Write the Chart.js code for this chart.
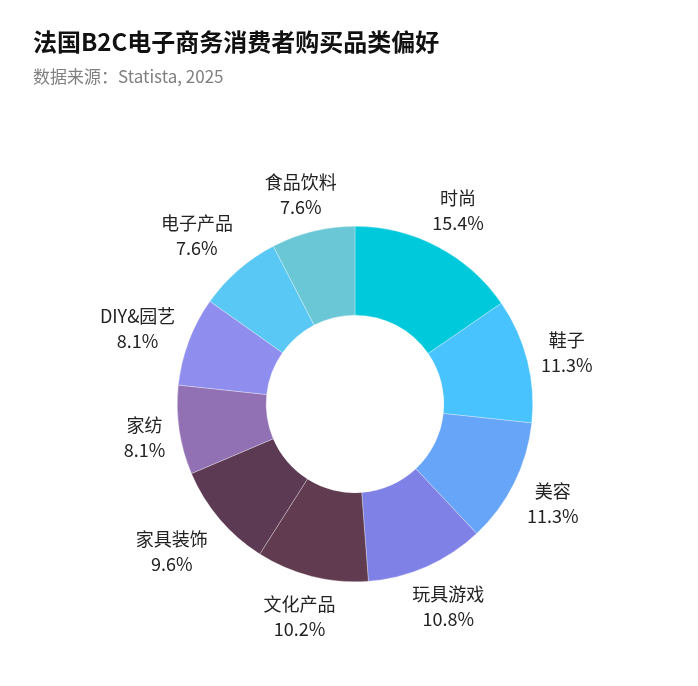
<!DOCTYPE html>
<html><head><meta charset="utf-8">
<script src="https://cdn.jsdelivr.net/npm/chart.js@4"></script>
<style>html,body{margin:0;padding:0;background:#fff;}#wrap{width:698px;height:686px;position:relative;}</style>
</head><body><div id="wrap"><canvas id="c" width="698" height="686"></canvas></div>
<script>
const categories = ['时尚','鞋子','美容','玩具游戏','文化产品','家具装饰','家纺','DIY&园艺','电子产品','食品饮料'];
const shares = [15.4, 11.3, 11.3, 10.8, 10.2, 9.6, 8.1, 8.1, 7.6, 7.6];
const colors = ['#00C9DC','#48C3FD','#66A5F8','#8081E6','#613C50','#5C3A53','#9170B4','#8F8EEF','#5AC8F5','#6AC8D6'];
const titleText = '法国B2C电子商务消费者购买品类偏好';
const subtitleText = '数据来源：Statista, 2025';
const FONT = '"Noto Sans CJK SC", "Noto Sans", sans-serif';

const labelPlugin = {
  id: 'outerLabels',
  afterDraw(chart) {
    const ctx = chart.ctx;
    ctx.save();
    ctx.fillStyle = '#111';
    ctx.font = 'bold 24px ' + FONT;
    ctx.textBaseline = 'middle';
    ctx.textAlign = 'left';
    ctx.fillText(titleText, 33, 42);
    ctx.fillStyle = '#808080';
    ctx.font = '17px ' + FONT;
    ctx.fillText(subtitleText, 33, 77);

    const meta = chart.getDatasetMeta(0);
    ctx.font = '18px ' + FONT;
    ctx.fillStyle = '#222';
    ctx.textAlign = 'center';
    const lineH = 25, pad = 4, offset = 10;
    meta.data.forEach((arc, i) => {
      const p = arc.getProps(['x','y','startAngle','endAngle','outerRadius'], true);
      const mid = (p.startAngle + p.endAngle) / 2;
      const vx = Math.cos(mid), vy = Math.sin(mid);
      const l1 = categories[i], l2 = shares[i].toFixed(1) + '%';
      const w = Math.max(ctx.measureText(l1).width, ctx.measureText(l2).width) + 2 * pad;
      const h = 2 * lineH + 2 * pad;
      const vs = 1 / Math.max(Math.abs(vx), Math.abs(vy));
      const x = p.x + p.outerRadius * vx + (w / 2) * vx * vs + offset * vx;
      const y = p.y + 2 + p.outerRadius * vy + (h / 2) * vy * vs + offset * vy;
      ctx.fillText(l1, x, y - lineH / 2);
      ctx.fillText(l2, x, y + lineH / 2);
    });
    ctx.restore();
  }
};

new Chart(document.getElementById('c'), {
  type: 'doughnut',
  data: {
    labels: categories,
    datasets: [{
      data: shares,
      backgroundColor: colors,
      borderColor: 'rgba(255,255,255,0.6)',
      borderWidth: 0.5
    }]
  },
  options: {
    responsive: false,
    animation: false,
    cutout: '50%',
    layout: { padding: { left: 177, right: 165, top: 226, bottom: 104 } },
    plugins: { legend: { display: false }, tooltip: { enabled: false }, title: { display: false } }
  },
  plugins: [labelPlugin]
});
</script>
</body></html>
